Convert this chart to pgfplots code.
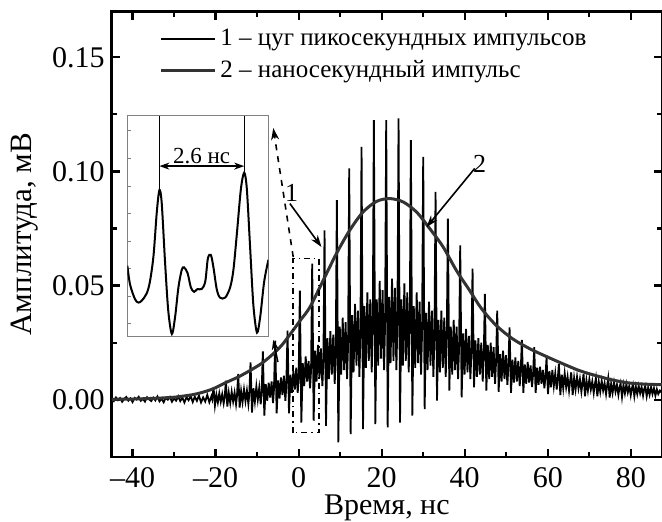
\documentclass[border=0pt]{standalone}
\usepackage{fontspec}
\setmainfont{Liberation Serif}
\usepackage{pgfplots}
\pgfplotsset{compat=1.18}
\usetikzlibrary{arrows.meta,calc}
\definecolor{pulse}{HTML}{333333}

% curve 1: train of picosecond pulses
\pgfplotstableread{
x y
-45.0 0.0004
-44.5 -0.0006
-44.0 0.0010
-43.5 -0.0002
-43.0 0.0007
-42.5 -0.0009
-42.0 0.0003
-41.5 0.0012
-41.0 -0.0004
-40.5 0.0006
-40.0 -0.0010
-39.5 0.0008
-39.0 0.0001
-38.5 0.0013
-38.0 -0.0005
-37.5 0.0004
-37.0 -0.0008
-36.5 0.0011
-36.0 0.0002
-35.5 -0.0006
-35.0 0.0009
-34.5 -0.0003
-34.0 0.0014
-33.5 -0.0007
-33.0 0.0005
-32.5 -0.0011
-32.0 0.0008
-31.5 0.0000
-31.0 0.0012
-30.5 -0.0009
-30.0 0.0006
-29.5 -0.0004
-29.0 0.0015
-28.5 -0.0006
-28.0 0.0009
-27.5 -0.0012
-27.0 0.0011
-26.5 -0.0002
-26.0 0.0016
-25.5 -0.0010
-25.0 0.0013
-24.5 -0.0005
-24.0 0.0018
-23.5 -0.0012
-23.0 0.0010
-22.5 -0.0008
-22.0 0.0021
-21.5 -0.0011
-21.0 0.0015
-20.8 0.0002
-20.49 0.0054
-20.15 -0.0025
-19.8 0.0022
-19.45 -0.0012
-19.1 0.0028
-18.75 -0.0009
-18.4 0.0024
-18.05 -0.0016
-17.8 0.0012
-17.52 0.0083
-17.17 -0.0030
-16.82 0.0030
-16.47 -0.0014
-16.12 0.0035
-15.77 -0.0008
-15.42 0.0031
-15.07 -0.0020
-14.85 0.0015
-14.55 0.0113
-14.2 -0.0034
-13.85 0.0038
-13.5 -0.0010
-13.15 0.0045
-12.8 -0.0006
-12.45 0.0040
-12.1 -0.0018
-11.88 0.0022
-11.58 0.0164
-11.23 -0.0056
-10.88 0.0050
-10.53 -0.0008
-10.18 0.0058
-9.83 0.0000
-9.48 0.0052
-9.13 -0.0020
-8.91 0.0030
-8.61 0.0212
-8.26 -0.0070
-7.91 0.0068
-7.56 -0.0005
-7.21 0.0075
-6.86 0.0010
-6.51 0.0080
-6.16 -0.0015
-5.94 0.0045
-5.64 0.0259
-5.29 -0.0060
-4.94 0.0085
-4.59 0.0005
-4.24 0.0098
-3.89 0.0020
-3.54 0.0105
-3.19 -0.0005
-2.97 0.0060
-2.67 0.0303
-2.32 -0.0060
-1.97 0.0110
-1.62 0.0030
-1.27 0.0125
-0.92 0.0045
-0.57 0.0140
-0.22 0.0030
0.00 0.0090
0.30 0.0478
0.65 -0.0100
1.00 0.0160
1.35 0.0060
1.70 0.0190
2.05 0.0080
2.40 0.0170
2.75 0.0050
3.00 0.0130
3.27 0.0596
3.62 -0.0092
3.97 0.0215
4.32 0.0080
4.67 0.0240
5.02 0.0095
5.37 0.0225
5.72 0.0060
5.97 0.0170
6.24 0.0742
6.59 -0.0114
6.94 0.0270
7.29 0.0090
7.64 0.0300
7.99 0.0110
8.34 0.0285
8.69 0.0070
8.94 0.0200
9.21 0.0874
9.56 -0.0187
9.91 0.0320
10.26 0.0110
10.61 0.0360
10.96 0.0130
11.31 0.0340
11.66 0.0090
11.91 0.0240
12.18 0.1013
12.53 -0.0151
12.88 0.0370
13.23 0.0120
13.58 0.0420
13.93 0.0150
14.28 0.0390
14.63 0.0100
14.88 0.0280
15.15 0.1108
15.50 -0.0129
15.85 0.0410
16.20 0.0140
16.55 0.0470
16.90 0.0170
17.25 0.0440
17.60 0.0120
17.85 0.0310
18.12 0.1225
18.47 -0.0107
18.82 0.0440
19.17 0.0150
19.52 0.0520
19.87 0.0180
20.22 0.0480
20.57 0.0130
20.82 0.0330
21.09 0.1225
21.44 -0.0121
21.79 0.0450
22.14 0.0160
22.49 0.0530
22.84 0.0170
23.19 0.0490
23.54 0.0130
23.79 0.0340
24.06 0.1232
24.41 -0.0100
24.76 0.0440
25.11 0.0150
25.46 0.0510
25.81 0.0170
26.16 0.0470
26.51 0.0120
26.76 0.0320
27.03 0.1137
27.38 -0.0070
27.73 0.0410
28.08 0.0140
28.43 0.0470
28.78 0.0160
29.13 0.0430
29.48 0.0110
29.73 0.0300
30.00 0.1064
30.35 -0.0041
30.70 0.0380
31.05 0.0130
31.40 0.0430
31.75 0.0150
32.10 0.0390
32.45 0.0100
32.70 0.0270
32.97 0.0910
33.32 -0.0004
33.67 0.0350
34.02 0.0120
34.37 0.0390
34.72 0.0140
35.07 0.0360
35.42 0.0100
35.67 0.0250
35.94 0.0793
36.29 0.0040
36.64 0.0320
36.99 0.0110
37.34 0.0350
37.69 0.0130
38.04 0.0320
38.39 0.0090
38.64 0.0230
38.91 0.0676
39.26 0.0010
39.61 0.0290
39.96 0.0110
40.31 0.0310
40.66 0.0120
41.01 0.0280
41.36 0.0090
41.61 0.0210
41.88 0.0574
42.23 0.0054
42.58 0.0260
42.93 0.0100
43.28 0.0270
43.63 0.0110
43.98 0.0250
44.33 0.0080
44.58 0.0190
44.85 0.0464
45.20 0.0040
45.55 0.0240
45.90 0.0090
46.25 0.0250
46.60 0.0100
46.95 0.0230
47.30 0.0070
47.55 0.0170
47.82 0.0390
48.17 0.0035
48.52 0.0200
48.87 0.0080
49.22 0.0215
49.57 0.0090
49.92 0.0195
50.27 0.0065
50.52 0.0150
50.79 0.0317
51.14 0.0030
51.49 0.0175
51.84 0.0075
52.19 0.0185
52.54 0.0080
52.89 0.0170
53.24 0.0060
53.49 0.0130
53.76 0.0262
54.11 0.0030
54.46 0.0155
54.81 0.0070
55.16 0.0165
55.51 0.0075
55.86 0.0150
56.21 0.0055
56.46 0.0115
56.73 0.0230
57.08 0.0030
57.43 0.0140
57.78 0.0065
58.13 0.0145
58.48 0.0070
58.83 0.0130
59.18 0.0050
59.43 0.0100
59.70 0.0183
60.05 0.0025
60.40 0.0125
60.75 0.0055
61.10 0.0130
61.45 0.0060
61.80 0.0115
62.15 0.0045
62.40 0.0090
62.67 0.0157
63.02 0.0020
63.37 0.0110
63.72 0.0050
64.07 0.0115
64.42 0.0055
64.77 0.0100
65.12 0.0040
65.37 0.0080
65.64 0.0120
65.99 0.0020
66.34 0.0095
66.69 0.0045
67.04 0.0100
67.39 0.0050
67.74 0.0090
68.09 0.0035
68.34 0.0070
68.61 0.0113
68.96 0.0015
69.31 0.0085
69.66 0.0040
70.01 0.0090
70.36 0.0045
70.71 0.0080
71.06 0.0030
71.31 0.0065
71.58 0.0094
71.93 0.0015
72.28 0.0078
72.63 0.0035
72.98 0.0082
73.33 0.0040
73.68 0.0072
74.03 0.0025
74.28 0.0060
74.55 0.0094
74.90 0.0010
75.25 0.0070
75.60 0.0030
75.95 0.0075
76.30 0.0035
76.65 0.0066
77.00 0.0022
77.25 0.0052
77.52 0.0072
77.87 0.0012
78.22 0.0065
78.57 0.0028
78.92 0.0068
79.27 0.0032
79.62 0.0060
79.97 0.0020
80.22 0.0048
80.49 0.0066
80.84 0.0015
81.19 0.0058
81.54 0.0025
81.89 0.0060
82.24 0.0028
82.59 0.0055
82.94 0.0018
83.19 0.0045
83.46 0.0060
83.81 0.0015
84.16 0.0052
84.51 0.0022
84.86 0.0055
85.21 0.0025
85.56 0.0050
85.91 0.0018
86.26 0.0046
86.61 0.0025
87.00 0.0040
87.50 0.0030
}\trainpulses

% curve 2: nanosecond pulse
\pgfplotstableread{
x y
-45 0.0002
-40 0.0003
-35 0.0006
-30 0.0011
-25 0.0024
-21 0.0045
-17.4 0.0076
-14.5 0.0100
-11.8 0.0127
-9 0.0158
-6.5 0.0195
-4 0.0240
-1.7 0.0295
0.5 0.0350
2.7 0.0405
5.9 0.0522
9.1 0.0640
12.3 0.0742
15.5 0.0822
18.8 0.0869
22.0 0.0881
25.2 0.0866
28.4 0.0822
31.6 0.0749
34.8 0.0669
38.0 0.0566
41.2 0.0478
44.0 0.0400
47.6 0.0325
51.6 0.0266
55.7 0.0223
59.7 0.0189
63.7 0.0157
67.7 0.0127
71.7 0.0105
75.7 0.0086
79.7 0.0073
83.8 0.0068
87.5 0.0066
}\nanopulse

% inset: zoomed part of curve 1
\pgfplotstableread{
x y
0.00 0.0111
0.083 0.0042
0.235 -0.0011
0.337 -0.0023
0.44 -0.0016
0.59 0.0010
0.69 0.0053
0.80 0.0148
0.90 0.0306
0.98 0.0385
1.05 0.0338
1.15 0.0127
1.25 -0.0053
1.36 -0.0137
1.46 -0.0074
1.56 0.0032
1.66 0.0095
1.73 0.0105
1.84 0.0084
1.94 0.0032
2.04 0.0016
2.14 0.0026
2.27 0.0026
2.38 0.0053
2.46 0.0137
2.55 0.0150
2.63 0.0105
2.73 0.0026
2.83 -0.0005
2.99 -0.0005
3.14 0.0032
3.24 0.0095
3.35 0.0232
3.47 0.0390
3.57 0.0448
3.65 0.0390
3.75 0.0179
3.85 -0.0032
3.96 -0.0132
4.06 -0.0074
4.18 0.0053
4.31 0.0132
}\insetdata

\begin{document}
\begin{tikzpicture}
\begin{axis}[
  name=main,
  scale only axis,
  width=275pt, height=222.5pt,
  xmin=-45, xmax=87.5,
  ymin=-0.025, ymax=0.17,
  xtick={-40,-20,0,20,40,60,80},
  xticklabels={–40,–20,0,20,40,60,80},
  ytick={0,0.05,0.1,0.15},
  yticklabels={0.00,0.05,0.10,0.15},
  scaled y ticks=false,
  minor x tick num=1,
  minor y tick num=1,
  tick align=inside,
  major tick length=4pt,
  minor tick length=2.5pt,
  axis line style={line width=1.3pt},
  tick style={black, line width=1.1pt},
  tick label style={font=\fontsize{15}{15}\selectfont},
  xticklabel style={inner sep=1pt, yshift=-4pt},
  label style={font=\fontsize{15}{16}\selectfont},
  xlabel style={inner sep=1pt, yshift=-1.5pt},
  xlabel={Время, нс},
  ylabel={Амплитуда, мВ},
  ylabel style={font=\fontsize{15.5}{16}\selectfont},
  legend style={draw=none, fill=none, at={(0.075,0.98)}, anchor=north west,
    font=\fontsize{12.5}{15}\selectfont, row sep=2pt},
  legend cell align=left,
  legend image code/.code={\draw[#1] (0pt,0pt) -- (27pt,0pt);},
]
\addplot[black, line width=0.9pt] table[x=x, y=y] {\trainpulses};
\addlegendentry{1 – цуг пикосекундных импульсов}
\addplot[pulse, line width=1.5pt, smooth] table[x=x, y=y] {\nanopulse};
\addlegendentry{2 – наносекундный импульс}

% dash-dot frame of the zoomed part and its arrow
\draw[black, line width=0.7pt, dash dot] (axis cs:-1.32,-0.0144) rectangle (axis cs:4.86,0.0618);
\draw[black, line width=0.8pt, dashed, -{Stealth[length=6pt,width=4pt]}] (axis cs:-1.3,0.0625) -- (axis cs:-6.1,0.1190);
\draw[black, line width=0.8pt, -{Stealth[length=5pt,width=3.5pt]}] (axis cs:-5.0,0.0165) -- (axis cs:-6.1,0.0262);
% callouts
\node[font=\fontsize{13}{13}\selectfont] at (axis cs:-1.7,0.0906) {1};
\draw[black, line width=0.8pt, -{Stealth[length=6pt,width=4pt]}] (axis cs:-2.1,0.0859) -- (axis cs:5.5,0.0669);
\node[font=\fontsize{13}{13}\selectfont] at (axis cs:43.6,0.1035) {2};
\draw[black, line width=0.8pt, -{Stealth[length=6pt,width=4pt]}] (axis cs:42.4,0.1013) -- (axis cs:30.8,0.0756);
\end{axis}

\begin{axis}[
  name=inset,
  at={($(main.south west)+(7.8pt,60pt)$)},
  anchor=south west,
  scale only axis,
  width=70.5pt, height=110.35pt,
  xmin=0, xmax=4.31,
  ymin=-0.0147, ymax=0.0654,
  xtick=\empty,
  ytick={-0.01,0,0.01,0.02,0.03,0.04,0.05,0.06},
  yticklabels={},
  scaled y ticks=false,
  yticklabel style={opacity=0},
  ytick pos=left,
  tick align=inside,
  major tick length=2pt,
  axis line style={gray, line width=0.5pt},
  tick style={gray, line width=0.4pt},
]
\addplot[black, line width=1pt, smooth] table[x=x, y=y] {\insetdata};
\draw[black, line width=0.6pt] (axis cs:0.98,0.0654) -- (axis cs:0.98,0.0385);
\draw[black, line width=0.6pt] (axis cs:3.57,0.0654) -- (axis cs:3.57,0.0448);
\draw[black, line width=0.7pt, {Stealth[length=5pt,width=3.5pt]}-{Stealth[length=5pt,width=3.5pt]}] (axis cs:0.98,0.0472) -- (axis cs:3.57,0.0472);
\node[anchor=south, inner sep=1pt, font=\fontsize{11.5}{12}\selectfont] at (axis cs:2.27,0.0472) {2.6 нс};
\end{axis}

\pgfresetboundingbox
\path ($(main.south west)+(-55.85pt,-32.15pt)$) rectangle ($(main.north east)+(0pt,5.8pt)$);
\end{tikzpicture}
\end{document}
